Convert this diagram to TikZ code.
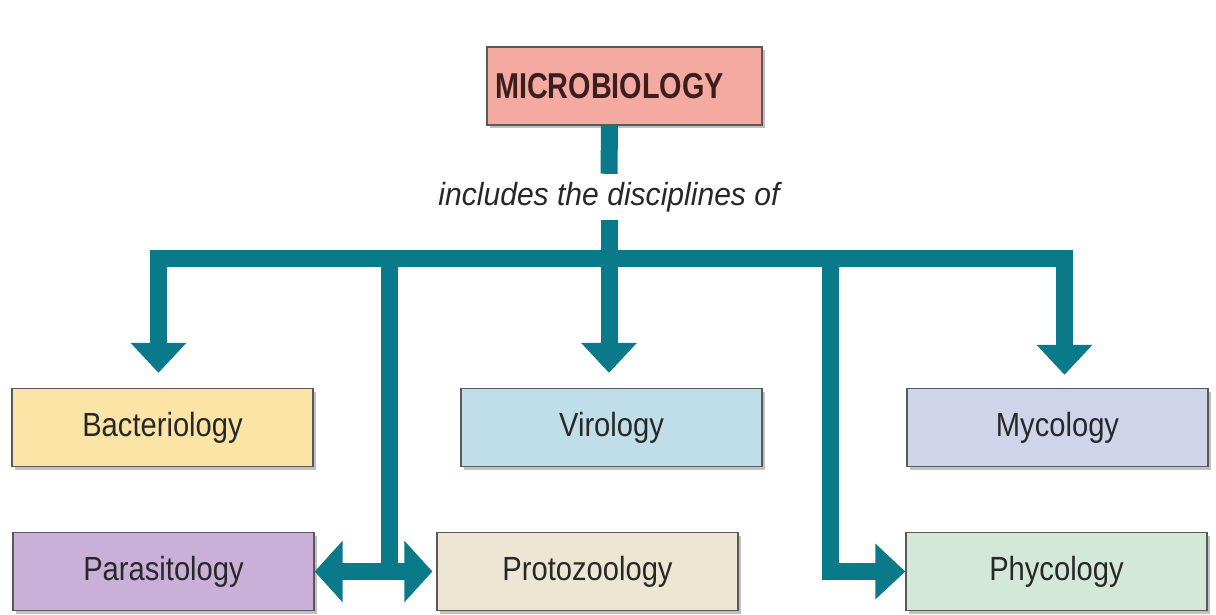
\documentclass[tikz,border=0pt]{standalone}
\usepackage{fontspec}
\setmainfont{Liberation Sans}
\newfontfamily\boxfont[FakeStretch=0.87]{Liberation Sans}
\newfontfamily\titlefont[FakeStretch=0.8]{Liberation Sans}
\newfontfamily\labfont[FakeStretch=0.94]{Liberation Sans}
\usetikzlibrary{arrows.meta,shadows}
\definecolor{tealc}{RGB}{10,122,138}
\definecolor{micfill}{RGB}{244,170,160}
\definecolor{bacfill}{RGB}{252,228,166}
\definecolor{virfill}{RGB}{192,221,234}
\definecolor{mycfill}{RGB}{208,212,234}
\definecolor{parfill}{RGB}{202,176,216}
\definecolor{profill}{RGB}{236,230,210}
\definecolor{phyfill}{RGB}{212,232,218}
\definecolor{txtc}{RGB}{40,40,40}
\definecolor{titc}{RGB}{60,30,30}
\begin{document}
\begin{tikzpicture}[x=1pt,y=-1pt,
  box/.style={draw=black!65, line width=1.3pt, minimum width=301pt, minimum height=78pt,
    inner sep=0pt, text=txtc, font=\boxfont\fontsize{33.5}{38}\selectfont,
    drop shadow={shadow xshift=3pt, shadow yshift=-3pt, fill=black!40, opacity=.6}},
  conn/.style={draw=tealc, line width=17pt},
  tip/.style={-{Triangle[width=54pt,length=30pt]}},
  tips/.style={{Triangle[width=60pt,length=28pt]}-{Triangle[width=60pt,length=28pt]}}
]
\useasboundingbox (0,0) rectangle (1216,615);
\fill[white] (0,0) rectangle (1216,615);

\node[box, fill=micfill, minimum width=275pt, text=titc, font=\titlefont\bfseries\fontsize{36}{40}\selectfont]
  (mic) at (624.5,86) {MICROBIOLOGY\hspace*{30pt}};
\node[inner sep=0pt, minimum height=46pt, text=txtc, font=\labfont\itshape\fontsize{32}{36}\selectfont]
  (lab) at (609,197) {includes the disciplines of};

\node[box, fill=bacfill] (bac) at (162.5,427.5) {Bacteriology};
\node[box, fill=virfill] (vir) at (611.5,427.5) {Virology};
\node[box, fill=mycfill] (myc) at (1057.5,427.5) {Mycology};
\node[box, fill=parfill] (par) at (163.5,571.5) {Parasitology};
\node[box, fill=profill] (pro) at (587.5,571.5) {Protozoology};
\node[box, fill=phyfill] (phy) at (1056.5,571.5) {Phycology};

\coordinate (j) at (609,258);
\coordinate (bl) at (389,258);
\coordinate (br) at (830,258);
\coordinate (bld) at (389,571.5);

\draw[conn] ([xshift=-15pt]mic.south) -- (lab.north);
\draw[conn] (lab.south) -- (j);
\draw[conn, tip, shorten >=15pt] (j) -| ([xshift=-4pt]bac.north);
\draw[conn, tip, shorten >=15pt] (j) -- (j |- vir.north);
\draw[conn, tip, shorten >=13pt] (j) -| ([xshift=7pt]myc.north);
\draw[conn] (bl) -- (bld);
\draw[conn, tips, shorten >=4pt] (par.east) -- (pro.west);
\draw[conn, tip] (br) |- (phy.west);
\end{tikzpicture}
\end{document}
